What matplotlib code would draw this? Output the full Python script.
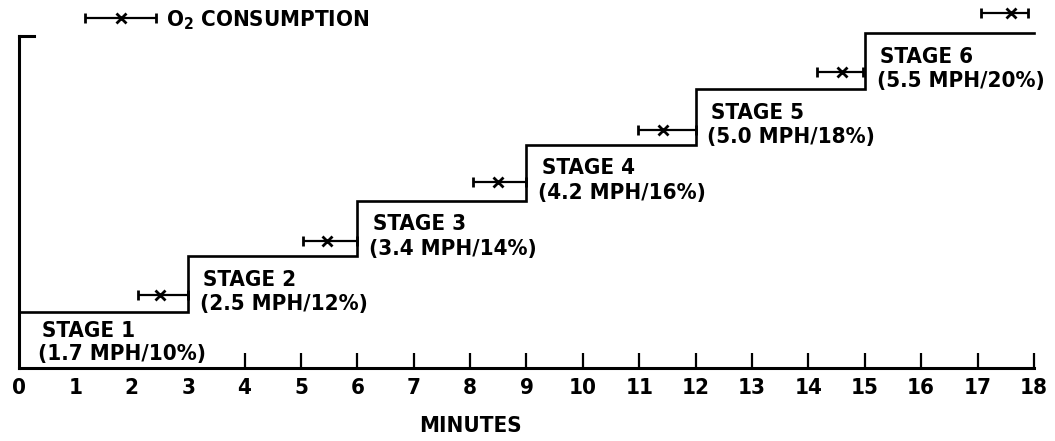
"""Treadmill protocol chart: six 3-minute stages with O2 consumption sampling windows."""

import matplotlib

matplotlib.use("Agg")
import matplotlib.pyplot as plt
from matplotlib.container import ErrorbarContainer
from matplotlib.legend_handler import HandlerErrorbar
from matplotlib.ticker import FixedLocator

plt.rcParams["font.family"] = ["DejaVu Sans"]
plt.rcParams["font.stretch"] = "condensed"
plt.rcParams["font.weight"] = "bold"

# ---- data ----
stage_start = [0, 3, 6, 9, 12, 15]
stage_end = [3, 6, 9, 12, 15, 18]
stage_level = [1.0, 2.0, 3.0, 4.0, 5.0, 6.0]
stage_names = ["STAGE 1", "STAGE 2", "STAGE 3", "STAGE 4", "STAGE 5", "STAGE 6"]
stage_params = ["(1.7 MPH/10%)", "(2.5 MPH/12%)", "(3.4 MPH/14%)",
                "(4.2 MPH/16%)", "(5.0 MPH/18%)", "(5.5 MPH/20%)"]

o2_center = [2.50, 5.46, 8.49, 11.42, 14.59, 17.60]
o2_low = [2.11, 5.04, 8.05, 10.97, 14.15, 17.07]
o2_high = [3.00, 6.00, 9.00, 12.00, 14.97, 17.89]
o2_level = [1.31, 2.28, 3.33, 4.27, 5.30, 6.36]

minute_ticks = list(range(0, 19))
tick_marks = list(range(4, 19))

fig = plt.figure(figsize=(10.55, 4.41), dpi=100)
ax = fig.add_axes([0.018, 0.1655, 0.962, 0.8345])

# ---- stepped workload profile ----
xs, ys = [], []
for s, e, lv in zip(stage_start, stage_end, stage_level):
    xs += [s, e]
    ys += [lv, lv]
ax.plot(xs, ys, color="black", linewidth=1.9, solid_joinstyle="miter", clip_on=False)

# ---- O2 consumption windows ----
xerr = [[c - lo for c, lo in zip(o2_center, o2_low)],
        [hi - c for c, hi in zip(o2_center, o2_high)]]
eb = ax.errorbar(o2_center, o2_level, xerr=xerr, fmt="x", color="black",
                 markersize=6.5, markeredgewidth=2.0, elinewidth=1.6,
                 capsize=3.5, capthick=1.8, clip_on=False)
for art in eb.lines[1] + eb.lines[2]:
    art.set_clip_on(False)

# ---- stage labels ----
for i, (s, lv, name, par) in enumerate(zip(stage_start, stage_level, stage_names, stage_params)):
    if i == 0:
        dx, d1, d2 = 0.40, 0.33, 0.75
    else:
        dx, d1, d2 = 0.27, 0.42, 0.86
    ax.text(s + dx, lv - d1, name, fontsize=16, fontweight="bold",
            ha="left", va="center")
    ax.text(s + dx - 0.06, lv - d2, par, fontsize=16, fontweight="bold",
            ha="left", va="center")

# ---- legend ----
ax.legend([eb], [r"$\mathregular{O_2}$ CONSUMPTION"], loc="upper left",
          bbox_to_anchor=(0.049, 1.02), frameon=False, handlelength=3.3,
          handletextpad=0.4, borderpad=0.2, prop={"size": 16, "weight": "bold"},
          handler_map={ErrorbarContainer: HandlerErrorbar(xerr_size=1.6)})

# ---- axes ----
ax.set_xlim(0, 18)
ax.set_ylim(0, 6.6)
for side in ("top", "right"):
    ax.spines[side].set_visible(False)
ax.spines["left"].set_bounds(0, 5.95)
ax.spines["left"].set_linewidth(2.2)
ax.spines["bottom"].set_linewidth(2.2)
ax.plot([0, 0.27], [5.95, 5.95], color="black", linewidth=2.2, clip_on=False)

ax.set_yticks([])
ax.xaxis.set_major_locator(FixedLocator(minute_ticks))
ax.xaxis.set_minor_locator(FixedLocator(tick_marks))
ax.xaxis.remove_overlapping_locs = False
ax.tick_params(axis="x", which="major", length=0, pad=7, labelsize=16)
ax.tick_params(axis="x", which="minor", direction="in", length=11, width=1.6)
for lab in ax.get_xticklabels():
    lab.set_fontweight("bold")

ax.set_xlabel("MINUTES", fontsize=16, fontweight="bold")
ax.xaxis.set_label_coords(8.0 / 18, -0.13)

fig.savefig("out.png", dpi=100)
